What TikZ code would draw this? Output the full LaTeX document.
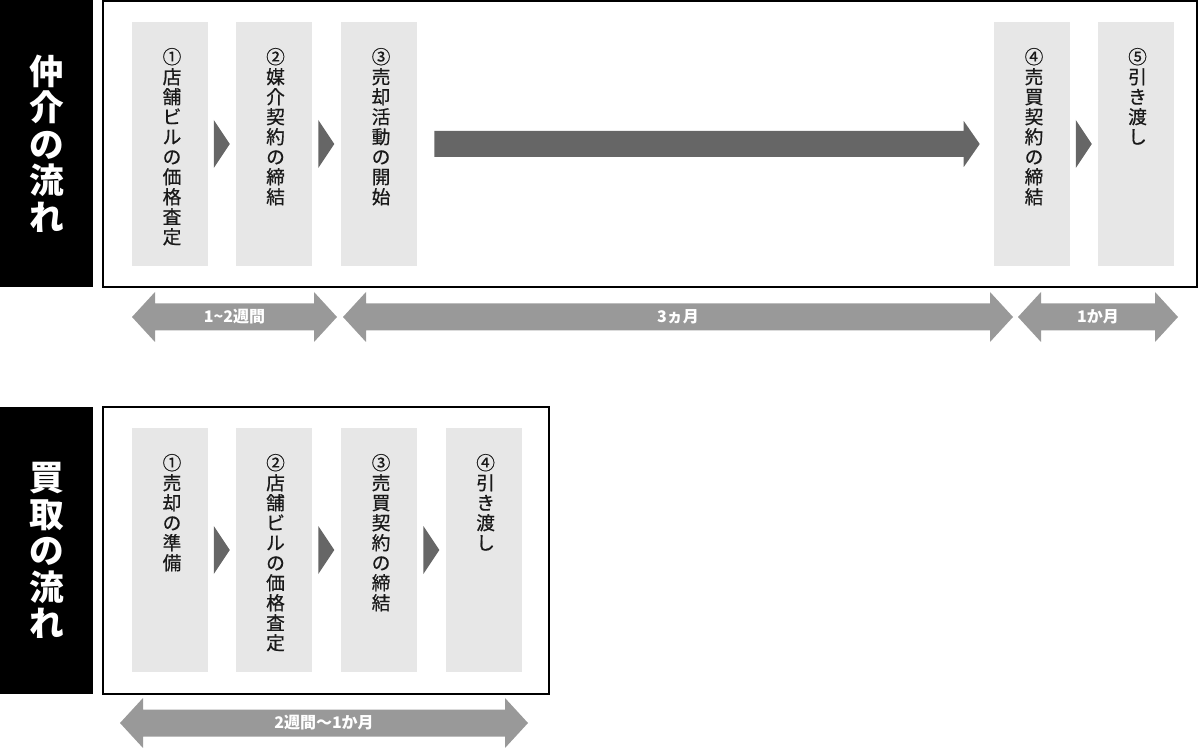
\documentclass[tikz,border=0pt]{standalone}
\usepackage{fontspec}
\setmainfont{Noto Sans CJK JP}
\newfontfamily\stepfont{Noto Sans CJK JP}[FakeBold=0.7]
\usetikzlibrary{calc,positioning}

\definecolor{colgray}{HTML}{E7E7E7}
\definecolor{chevgray}{HTML}{666666}
\definecolor{spangray}{HTML}{999999}

\tikzset{
  stepcol/.style={fill=colgray, minimum width=57pt, minimum height=183pt, inner sep=0pt},
  steptext/.style={anchor=north, align=center, inner sep=0pt, text=black!90,
    font=\stepfont\fontsize{14}{15}\selectfont},
  flowtitle/.style={fill=black, text=white, minimum width=69.75pt, minimum height=215.25pt,
    align=center, inner sep=0pt, font=\fontsize{26}{27.4}\selectfont\bfseries},
  frame/.style={draw=black, line width=1.1pt},
  chev/.style={fill=chevgray},
  spanfill/.style={fill=spangray},
  spanlabel/.style={text=white, inner sep=0pt, font=\fontsize{12}{13}\selectfont\bfseries},
}

% text of a step, stacked from the top of its column
\newcommand{\steplabel}[2]{\node[steptext] (#1t) at ($(#1.north)+(2,26)$) {#2};}
% triangle between two columns
\newcommand{\stepchev}[2]{%
  \fill[chev] ($(#1.east)!0.5!(#2.west)+(-8,-24)$) -- ++(16,24) -- ++(-16,24) -- cycle;}
% duration arrow with a label
\newcommand{\durarrow}[4]{%
  \fill[spanfill] (#2) -- ++(23,-25) -- ++(0,11.5) -- ($(#3)+(-23,-13.5)$) -- ++(0,-11.5)
    -- (#3) -- ++(-23,25) -- ++(0,-11.5) -- ($(#2)+(23,13.5)$) -- ++(0,11.5) -- cycle;
  \node[spanlabel] (#1) at ($(#2)!0.5!(#3)$) {#4};}

\begin{document}
\begin{tikzpicture}[x=0.75pt,y=-0.75pt,node distance=20.25pt]
  \useasboundingbox (0,0) rectangle (1199,748);

  % --- 仲介 ---
  \node[flowtitle] (t1) at (46.5,143.5) {仲\\介\\の\\流\\れ};
  \draw[frame] (103,1) rectangle (1197,287);

  \node[stepcol] (a1) at (170,144) {};
  \node[stepcol, right=of a1] (a2) {};
  \node[stepcol, right=21.75pt of a2] (a3) {};
  \node[stepcol] (a4) at (1032,144) {};
  \node[stepcol, right=of a4] (a5) {};

  \steplabel{a1}{①\\店\\舗\\ビ\\ル\\の\\価\\格\\査\\定}
  \steplabel{a2}{②\\媒\\介\\契\\約\\の\\締\\結}
  \steplabel{a3}{③\\売\\却\\活\\動\\の\\開\\始}
  \steplabel{a4}{④\\売\\買\\契\\約\\の\\締\\結}
  \steplabel{a5}{⑤\\引\\き\\渡\\し}

  \stepchev{a1}{a2}
  \stepchev{a2}{a3}
  \stepchev{a4}{a5}
  \fill[chev] ($(a3.east)+(17,-13)$) -- ($(a4.west)+(-30,-13)$) -- ++(0,-10)
    -- ($(a4.west)+(-14,0)$) -- ($(a4.west)+(-30,23)$) -- ++(0,-10)
    -- ($(a3.east)+(17,13)$) -- cycle;

  \coordinate (s1a) at (132,317);
  \coordinate (s1b) at (337,317);
  \coordinate (s2a) at (343,317);
  \coordinate (s2b) at (1013,317);
  \coordinate (s3a) at (1018,317);
  \coordinate (s3b) at (1178,317);
  \durarrow{d1}{s1a}{s1b}{1\char`\~2週間}
  \durarrow{d2}{s2a}{s2b}{3ヵ月}
  \durarrow{d3}{s3a}{s3b}{1か月}

  % --- 買取 ---
  \node[flowtitle] (t2) at (46.5,550.5) {買\\取\\の\\流\\れ};
  \draw[frame] (103,407) rectangle (549,694);

  \node[stepcol] (b1) at (170,550) {};
  \node[stepcol, right=of b1] (b2) {};
  \node[stepcol, right=21.75pt of b2] (b3) {};
  \node[stepcol, right=21pt of b3] (b4) {};

  \steplabel{b1}{①\\売\\却\\の\\準\\備}
  \steplabel{b2}{②\\店\\舗\\ビ\\ル\\の\\価\\格\\査\\定}
  \steplabel{b3}{③\\売\\買\\契\\約\\の\\締\\結}
  \steplabel{b4}{④\\引\\き\\渡\\し}

  \stepchev{b1}{b2}
  \stepchev{b2}{b3}
  \stepchev{b3}{b4}

  \coordinate (s4a) at (120,723);
  \coordinate (s4b) at (528,723);
  \durarrow{d4}{s4a}{s4b}{2週間～1か月}
\end{tikzpicture}
\end{document}
